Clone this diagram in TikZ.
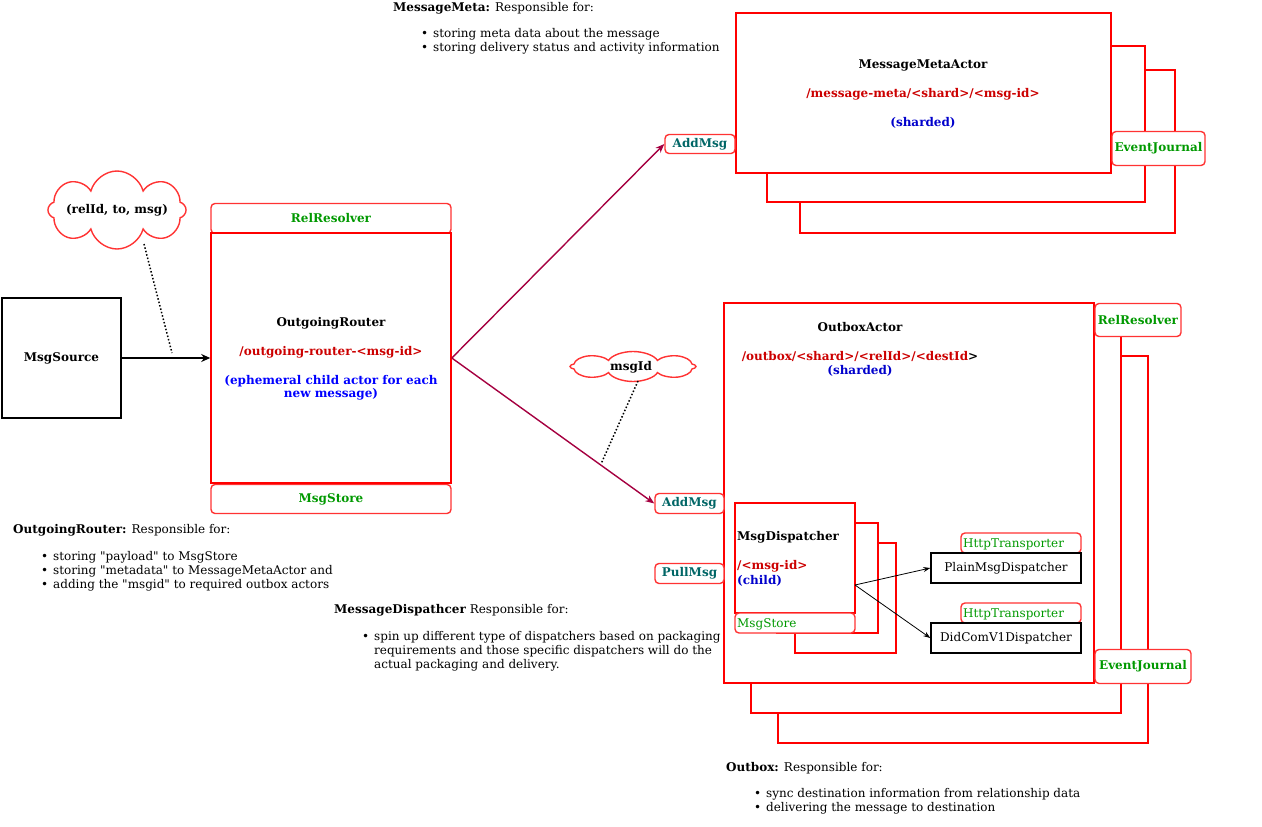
\documentclass[tikz,border=0pt]{standalone}
\usepackage{fontspec}
\setmainfont{DejaVu Serif}[Ligatures=TeXOff]
\usetikzlibrary{shapes.symbols,arrows.meta}
\definecolor{boxred}{HTML}{FF0000}
\definecolor{softred}{HTML}{FF3333}
\definecolor{pathred}{HTML}{CC0000}
\definecolor{idblue}{HTML}{0000FF}
\definecolor{shardblue}{HTML}{0000CC}
\definecolor{compgreen}{HTML}{009900}
\definecolor{msgteal}{HTML}{006666}
\definecolor{flowpurple}{HTML}{A50040}

\begin{document}
\begin{tikzpicture}[x=1pt,y=-1pt,
  font=\fontsize{12}{14}\selectfont,
  actor/.style={draw=boxred, line width=1.6pt, fill=white, inner sep=0pt},
  plain/.style={draw=black, line width=1.6pt, fill=white, inner sep=0pt},
  plug/.style={draw=softred, line width=1.4pt, rounded corners=4pt, fill=white, inner sep=0pt,
    font=\fontsize{12}{14}\selectfont\bfseries},
  bubble/.style={cloud, cloud ignores aspect, draw=softred, line width=1.4pt,
    fill=white, inner sep=0pt, font=\fontsize{12}{14}\selectfont\bfseries},
  flow/.style={flowpurple, line width=1.4pt, -{Stealth[length=9pt,width=7pt]}},
  feed/.style={black, line width=1.6pt, -{Stealth[length=9pt,width=8pt]}},
  thin/.style={black, line width=0.8pt, -{Stealth[length=7pt,width=5pt]}},
  hint/.style={black, line width=1.5pt, dotted},
  note/.style={anchor=west, inner sep=0pt},
  bullets/.style={anchor=north west, inner sep=0pt},
]
\useasboundingbox (0,0) rectangle (1262,827);

% ---------- source and router ----------
\node[plain, minimum width=119, minimum height=120, font=\fontsize{12}{14}\selectfont\bfseries]
  (src) at (61.5,358) {MsgSource};

\node[plug, minimum width=240, minimum height=30, text=compgreen] (relres) at (331,218.5) {RelResolver};
\node[plug, minimum width=240, minimum height=29, text=compgreen] (rstore) at (331,499) {MsgStore};
\node[actor, minimum width=240, minimum height=250] (router) at (331,358) {};
\node[font=\fontsize{12}{14}\selectfont\bfseries] (routertitle) at (331,323) {OutgoingRouter};
\node[font=\fontsize{12}{14}\selectfont\bfseries, text=pathred] (routerpath) at (331,352) {/outgoing-router-<msg-id>};
\node[font=\fontsize{12}{13}\selectfont\bfseries, text=idblue, align=center] (routerinfo) at (331,388)
  {(ephemeral child actor for each\\new message)};

% ---------- cloud: incoming tuple ----------
\node[bubble, cloud puffs=8, minimum width=136, minimum height=78] (tuple) at (117,210) {(relId, to, msg)};
\coordinate (tupletail) at (144,244);
\coordinate (tuplehead) at (172,353);
\draw[hint] (tupletail) -- (tuplehead);

\draw[feed] (src.east) -- (router.west);

% ---------- message meta actor stack ----------
\node[actor, minimum width=375, minimum height=163] (meta3) at (987.5,151.5) {};
\node[actor, minimum width=378, minimum height=156] (meta2) at (956,124) {};
\node[actor, minimum width=375, minimum height=160] (meta) at (923.5,93) {};
\node[font=\fontsize{12}{14}\selectfont\bfseries] (metatitle) at (923,65) {MessageMetaActor};
\node[font=\fontsize{12}{14}\selectfont\bfseries, text=pathred] (metapath) at (923,94) {/message-meta/<shard>/<msg-id>};
\node[font=\fontsize{12}{14}\selectfont\bfseries, text=shardblue] (metashard) at (923,123) {(sharded)};
\node[plug, minimum width=93, minimum height=34, text=compgreen] (metajournal) at (1158.5,148.5) {EventJournal};
\node[plug, minimum width=70, minimum height=19, text=msgteal] (addmeta) at (700,144) {AddMsg};

% ---------- outbox actor stack ----------
\node[actor, minimum width=370, minimum height=387] (out3) at (963,549.5) {};
\node[actor, minimum width=370, minimum height=380] (out2) at (936,523) {};
\node[actor, minimum width=370, minimum height=380] (out) at (909,493) {};
\node[plug, minimum width=86, minimum height=33, text=compgreen] (outrel) at (1138,320) {RelResolver};
\node[plug, minimum width=96, minimum height=34, text=compgreen] (outjournal) at (1143,666.5) {EventJournal};
\node[font=\fontsize{12}{14}\selectfont\bfseries] (outtitle) at (860,327) {OutboxActor};
\node[font=\fontsize{12}{14}\selectfont\bfseries] (outpath) at (860,356)
  {\textcolor{pathred}{/outbox/<shard>/<relId>/<destId}>};
\node[font=\fontsize{12}{14}\selectfont\bfseries, text=shardblue] (outshard) at (860,371) {(sharded)};
\node[plug, minimum width=69, minimum height=20, text=msgteal] (addout) at (689.5,503.5) {AddMsg};
\node[plug, minimum width=69, minimum height=20, text=msgteal] (pullout) at (689.5,573.5) {PullMsg};

% ---------- cloud: message id (outline stretched sideways) ----------
\begin{scope}[shift={(633,366.5)}, xscale=2.1]
  \node[bubble, cloud puffs=8, transform shape, minimum width=60, minimum height=30] (msgidcloud) at (0,0) {};
\end{scope}
\node[font=\fontsize{12}{14}\selectfont\bfseries] (msgid) at (631,367) {msgId};
\coordinate (msgidtail) at (638,381);
\coordinate (msgidhead) at (601,464);
\draw[hint] (msgidtail) -- (msgidhead);

% ---------- router fan-out ----------
\draw[flow] (router.east) -- (addmeta.west);
\draw[flow] (router.east) -- (addout.west);

% ---------- dispatcher stack ----------
\node[actor, minimum width=101, minimum height=110] (disp3) at (845.5,598) {};
\node[actor, minimum width=101, minimum height=110] (disp2) at (827.5,578) {};
\node[actor, minimum width=120, minimum height=110] (disp) at (795,558) {};
\node[plug, minimum width=120, minimum height=20, font=\fontsize{12}{14}\selectfont] (dstore) at (795,623) {};
\node[note, text=compgreen] (dstorelabel) at (737,624) {MsgStore};
\node[note, font=\fontsize{12}{14}\selectfont\bfseries] (disptitle) at (737,537) {MsgDispatcher};
\node[note, font=\fontsize{12}{14}\selectfont\bfseries, text=pathred] (disppath) at (737,566) {/<msg-id>};
\node[note, font=\fontsize{12}{14}\selectfont\bfseries, text=shardblue] (dispchild) at (737,581) {(child)};

% ---------- concrete dispatchers ----------
\node[plug, minimum width=120, minimum height=20, font=\fontsize{12}{14}\selectfont] (http1) at (1021,543) {};
\node[note, text=compgreen] (http1label) at (963,544) {HttpTransporter};
\node[plain, minimum width=150, minimum height=30, line width=1.4pt] (plainmd) at (1006,568) {PlainMsgDispatcher};
\node[plug, minimum width=120, minimum height=20, font=\fontsize{12}{14}\selectfont] (http2) at (1021,613) {};
\node[note, text=compgreen] (http2label) at (963,614) {HttpTransporter};
\node[plain, minimum width=150, minimum height=30, line width=1.4pt] (didcom) at (1006,638) {DidComV1Dispatcher};

\coordinate (fork) at (855,585);
\draw[thin] (fork) -- (plainmd.west);
\draw[thin] (fork) -- (didcom.west);

% ---------- responsibility notes ----------
\node[note] (metanote) at (393,8) {\textbf{MessageMeta:} Responsible for:};
\node[bullets] (metalist) at (421,27) {\begin{tabular}{@{}p{12pt}@{}l@{}}
  \textbullet & storing meta data about the message\\
  \textbullet & storing delivery status and activity information
\end{tabular}};

\node[note] (routernote) at (13,530) {\textbf{OutgoingRouter:} Responsible for:};
\node[bullets] (routerlist) at (41,550) {\begin{tabular}{@{}p{12pt}@{}l@{}}
  \textbullet & storing "payload" to MsgStore\\
  \textbullet & storing "metadata" to MessageMetaActor and\\
  \textbullet & adding the "msgid" to required outbox actors
\end{tabular}};

\node[note] (dispnote) at (334,610) {\textbf{MessageDispathcer} Responsible for:};
\node[bullets] (displist) at (362,630) {\begin{tabular}{@{}p{12pt}@{}l@{}}
  \textbullet & spin up different type of dispatchers based on packaging\\
   & requirements and those specific dispatchers will do the\\
   & actual packaging and delivery.
\end{tabular}};

\node[note] (outnote) at (726,768) {\textbf{Outbox:} Responsible for:};
\node[bullets] (outlist) at (754,787) {\begin{tabular}{@{}p{12pt}@{}l@{}}
  \textbullet & sync destination information from relationship data\\
  \textbullet & delivering the message to destination
\end{tabular}};
\end{tikzpicture}
\end{document}
